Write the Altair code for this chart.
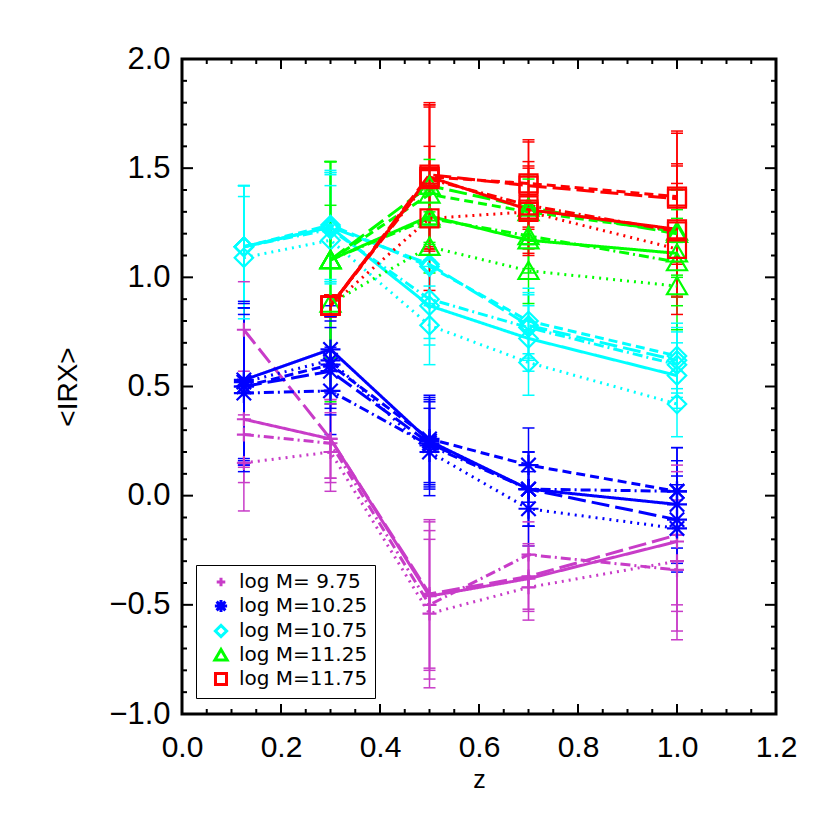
import altair as alt
import pandas as pd

# ---------------- data ----------------
z_vals = [0.125, 0.3, 0.5, 0.7, 1.0]

mass_labels = ["log M= 9.75", "log M=10.25", "log M=10.75", "log M=11.25", "log M=11.75"]
mass_colors = ["#C83CC8", "#0000FF", "#00FFFF", "#00FF00", "#FF0000"]

styles = ["solid", "dash", "dashdot", "longdash", "dot"]
style_dashes = [[1, 0], [9, 5], [10, 4, 2, 4], [18, 6], [2, 5]]

irx_m975 = {
    "solid":    [0.35, 0.26, -0.46, -0.38, -0.21],
    "dash":     [None, None, None, None, None],
    "dashdot":  [0.28, 0.24, -0.50, -0.27, -0.34],
    "longdash": [0.76, 0.26, -0.45, -0.37, -0.18],
    "dot":      [0.15, 0.20, -0.54, -0.42, -0.30],
}
err_m975 = [0.22, 0.18, 0.34, 0.15, 0.32]

irx_m1025 = {
    "solid":    [0.53, 0.67, 0.25, 0.03, -0.04],
    "dash":     [0.50, 0.60, 0.26, 0.14, 0.02],
    "dashdot":  [0.47, 0.48, 0.23, 0.03, 0.02],
    "longdash": [0.50, 0.57, 0.24, 0.03, -0.11],
    "dot":      [0.52, 0.62, 0.20, -0.06, -0.15],
}
err_m1025 = [0.36, 0.20, 0.20, 0.17, 0.20]

irx_m1075 = {
    "solid":    [1.14, 1.23, 0.87, 0.72, 0.55],
    "dash":     [1.14, 1.24, 1.05, 0.80, 0.64],
    "dashdot":  [1.14, 1.22, 0.90, 0.77, 0.60],
    "longdash": [1.14, 1.23, 1.06, 0.78, 0.62],
    "dot":      [1.09, 1.17, 0.78, 0.61, 0.42],
}
err_m1075 = [0.28, 0.25, 0.18, 0.15, 0.15]

irx_m1125 = {
    "solid":    [None, 1.08, 1.28, 1.17, 1.11],
    "dash":     [None, 1.08, 1.38, 1.30, 1.21],
    "dashdot":  [None, 1.08, 1.27, 1.19, 1.07],
    "longdash": [None, 1.08, 1.42, 1.32, 1.20],
    "dot":      [None, 0.88, 1.14, 1.03, 0.96],
}
err_m1125 = [0.0, 0.45, 0.12, 0.15, 0.20]

irx_m1175 = {
    "solid":    [None, 0.87, 1.46, 1.31, 1.22],
    "dash":     [None, 0.87, 1.46, 1.43, 1.37],
    "dashdot":  [None, 0.87, 1.45, 1.33, 1.21],
    "longdash": [None, 0.87, 1.47, 1.42, 1.36],
    "dot":      [None, 0.87, 1.27, 1.30, 1.13],
}
err_m1175 = [0.0, 0.05, 0.33, 0.20, 0.30]

x_major = [0.0, 0.2, 0.4, 0.6, 0.8, 1.0, 1.2]
x_minor = [0.05, 0.1, 0.15, 0.25, 0.3, 0.35, 0.45, 0.5, 0.55, 0.65, 0.7, 0.75,
           0.85, 0.9, 0.95, 1.05, 1.1, 1.15]
y_major = [-1.0, -0.5, 0.0, 0.5, 1.0, 1.5, 2.0]
y_minor = [-0.9, -0.8, -0.7, -0.6, -0.4, -0.3, -0.2, -0.1, 0.1, 0.2, 0.3, 0.4,
           0.6, 0.7, 0.8, 0.9, 1.1, 1.2, 1.3, 1.4, 1.6, 1.7, 1.8, 1.9]

# ---------------- build tables ----------------
series_sets = [irx_m975, irx_m1025, irx_m1075, irx_m1125, irx_m1175]
err_sets = [err_m975, err_m1025, err_m1075, err_m1125, err_m1175]

rows = []
for label, sset, errs in zip(mass_labels, series_sets, err_sets):
    for st in styles:
        for z, v, e in zip(z_vals, sset[st], errs):
            if v is None:
                continue
            rows.append({"mass": label, "style": st, "sid": label + "|" + st,
                         "z": z, "irx": v, "lo": v - e, "hi": v + e, "e": e})
df = pd.DataFrame(rows)
df_err = df[df["e"] > 0].reset_index(drop=True)

W, H = 594, 655

xs = alt.Scale(domain=[0, 1.2], nice=False, zero=False)
ys = alt.Scale(domain=[-1, 2], nice=False, zero=False)
col = alt.Scale(domain=mass_labels, range=mass_colors)
col_nolegend = alt.Color("mass:N", scale=col, legend=None)

legend_spec = alt.Legend(
    title=None, orient="none", legendX=14, legendY=506,
    labelFont="DejaVu Sans", labelFontSize=20, labelColor="black", labelLimit=300,
    padding=7, symbolOffset=8, labelOffset=8, rowPadding=0,
    symbolSize=150, symbolStrokeWidth=3, symbolOpacity=1,
    strokeColor="black", fillColor="white",
)

# marker outlines (relative sizes baked into the unit paths)
shape_paths = [
    "M-0.7,0L0.7,0M0,-0.7L0,0.7",
    "M-1,0L1,0M0,-1L0,1M-0.72,-0.72L0.72,0.72M-0.72,0.72L0.72,-0.72",
    "M-0.92,0L0,-0.92L0.92,0L0,0.92Z",
    "M-1,0.82L1,0.82L0,-0.9Z",
    "M-0.9,-0.9L0.9,-0.9L0.9,0.9L-0.9,0.9Z",
]

x_axis = alt.Axis(values=x_major, format=".1f", grid=False, ticks=False, tickSize=0,
                  domain=False, labelFlush=False, labelOverlap=False,
                  labelFontSize=30, labelPadding=18, labelColor="black",
                  title="z", titleFontSize=25, titleFontWeight="normal",
                  titleColor="black", titleY=73, titleX=W / 2,
                  titleBaseline="alphabetic", titleAlign="center")
y_axis = alt.Axis(values=y_major,
                  labelExpr="replace(format(datum.value, '.1f'), '-', '\u2212')",
                  grid=False, ticks=False, tickSize=0, domain=False,
                  labelFlush=False, labelOverlap=False,
                  labelFontSize=31, labelPadding=12, labelColor="black",
                  title="<IRX>", titleFontSize=28, titleFontWeight="normal",
                  titleColor="black", titleX=-114, titleY=H / 2,
                  titleAngle=270, titleAlign="center", titleBaseline="middle")

base = alt.Chart(df)

err_rule = alt.Chart(df_err).mark_rule(strokeWidth=1.5).encode(
    x=alt.X("z:Q", scale=xs, axis=x_axis),
    y=alt.Y("lo:Q", scale=ys, axis=y_axis),
    y2="hi:Q",
    color=col_nolegend,
)
cap_lo = alt.Chart(df_err).mark_tick(orient="horizontal", size=12, thickness=1.5, opacity=1).encode(
    x=alt.X("z:Q", scale=xs), y=alt.Y("lo:Q", scale=ys),
    color=col_nolegend,
)
cap_hi = alt.Chart(df_err).mark_tick(orient="horizontal", size=12, thickness=1.5, opacity=1).encode(
    x=alt.X("z:Q", scale=xs), y=alt.Y("hi:Q", scale=ys),
    color=col_nolegend,
)

lines = base.mark_line(strokeWidth=3, strokeCap="butt").encode(
    x=alt.X("z:Q", scale=xs),
    y=alt.Y("irx:Q", scale=ys),
    color=col_nolegend,
    strokeDash=alt.StrokeDash("style:N", scale=alt.Scale(domain=styles, range=style_dashes),
                              legend=None),
    detail="sid:N",
    order="z:Q",
)

data_layers = alt.layer(err_rule, cap_lo, cap_hi, lines)

points = base.mark_point(filled=False, strokeWidth=2.2, opacity=1, size=400).encode(
    x=alt.X("z:Q", scale=xs),
    y=alt.Y("irx:Q", scale=ys),
    color=alt.Color("mass:N", scale=col, legend=legend_spec),
    shape=alt.Shape("mass:N", scale=alt.Scale(domain=mass_labels, range=shape_paths),
                    legend=legend_spec),
)

xt = pd.DataFrame({"v": x_major})
xm = pd.DataFrame({"v": x_minor})
yt = pd.DataFrame({"v": y_major})
ym = pd.DataFrame({"v": y_minor})


def xticks(d, length):
    bot = alt.Chart(d).mark_rule(color="black", strokeWidth=2).encode(
        x=alt.X("v:Q", scale=xs), y=alt.value(H), y2=alt.value(H - length))
    top = alt.Chart(d).mark_rule(color="black", strokeWidth=2).encode(
        x=alt.X("v:Q", scale=xs), y=alt.value(0), y2=alt.value(length))
    return [bot, top]


def yticks(d, length):
    left = alt.Chart(d).mark_rule(color="black", strokeWidth=2).encode(
        y=alt.Y("v:Q", scale=ys), x=alt.value(0), x2=alt.value(length))
    right = alt.Chart(d).mark_rule(color="black", strokeWidth=2).encode(
        y=alt.Y("v:Q", scale=ys), x=alt.value(W), x2=alt.value(W - length))
    return [left, right]


tick_layers = xticks(xt, 10) + xticks(xm, 5) + yticks(yt, 11) + yticks(ym, 5)

frame = alt.Chart(pd.DataFrame({"f": [0]})).mark_rect(
    fill=None, fillOpacity=0, stroke="black", strokeWidth=3
).encode(x=alt.value(0), x2=alt.value(W), y=alt.value(0), y2=alt.value(H))

chart = alt.layer(data_layers, points, *tick_layers, frame).resolve_scale(
    color="independent", shape="independent"
).resolve_legend(
    color="independent", shape="independent"
).properties(
    width=W, height=H,
    padding={"left": 174, "top": 51, "right": 40, "bottom": 100},
    autosize=alt.AutoSizeParams(type="none"),
).configure_view(
    stroke=None
).configure_axis(
    labelFont="DejaVu Sans", titleFont="DejaVu Sans"
).configure_legend(
    strokeWidth=2.5
).configure(background="white")

chart.save("out.html", embed_options={"renderer": "svg", "actions": False})
